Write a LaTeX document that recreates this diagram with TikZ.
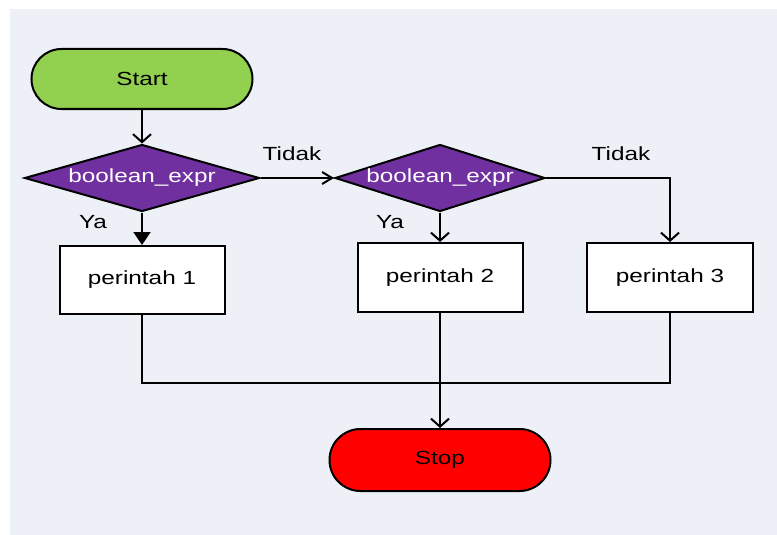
\documentclass[tikz,border=0pt]{standalone}
\usepackage{fontspec}
\usepackage{graphicx}
\setmainfont{Liberation Sans}
\usetikzlibrary{shapes.geometric,arrows.meta}
\definecolor{bgc}{HTML}{EDF1F7}
\definecolor{startg}{HTML}{92D050}
\definecolor{purp}{HTML}{7030A0}
\definecolor{stopr}{HTML}{FF0000}
\newcommand\stx[1]{\scalebox{1.28}[1]{#1}}
\begin{document}
\begin{tikzpicture}[x=1pt,y=-1pt,
  font=\fontsize{19}{23}\selectfont,
  line width=2pt,
  term/.style={draw,line width=2pt,rounded corners=30pt,minimum width=221pt,minimum height=60pt,inner sep=0pt},
  decision/.style={draw,line width=2pt,diamond,fill=purp,minimum width=235pt,minimum height=67pt,inner sep=0pt},
  dtext/.style={text=white,inner sep=0pt},
  process/.style={draw,line width=2pt,fill=white,minimum width=165pt,minimum height=68pt,inner sep=0pt},
  lbl/.style={inner sep=0pt},
  openv/.style={-{Straight Barb[length=8pt,width=18pt,line width=2pt]}},
  openh/.style={-{Straight Barb[length=10pt,width=12pt,line width=2pt]}},
  filled/.style={-{Triangle[length=13pt,width=17pt]}}]
\useasboundingbox (0,0) rectangle (777,535);
\fill[bgc] (10,9) rectangle (777,535);

\node[term,fill=startg] (start) at (142,79) {\stx{Start}};
\node[decision,label={[dtext]center:\stx{boolean\_expr}}] (d1) at (142,178) {};
\node[decision,minimum width=210pt,label={[dtext]center:\stx{boolean\_expr}}] (d2) at (440,178) {};
\node[process] (p1) at (142,280) {\stx{perintah 1}};
\node[process,minimum height=69pt] (p2) at (440,277.5) {\stx{perintah 2}};
\node[process,minimum height=69pt,minimum width=166pt] (p3) at (670,277.5) {\stx{perintah 3}};
\node[term,fill=stopr,minimum height=62pt,rounded corners=31pt] (stop) at (440,460) {\stx{Stop}};
\coordinate (m) at (440,383);

\node[lbl] (ya1) at (93,222) {\stx{Ya}};
\node[lbl] (ya2) at (390,222) {\stx{Ya}};
\node[lbl] (t1) at (292,154) {\stx{Tidak}};
\node[lbl] (t2) at (621,154) {\stx{Tidak}};

\draw[openv] (start.south) -- (d1.north);
\draw[filled] (d1.south) -- (p1.north);
\draw[openh] (d1.east) -- (d2.west);
\draw[openv] (d2.south) -- (p2.north);
\draw[openv] (d2.east) -| (p3.north);
\draw (p1.south) |- (m) -| (p3.south);
\draw[openv] (p2.south) -- (stop.north);
\end{tikzpicture}
\end{document}
